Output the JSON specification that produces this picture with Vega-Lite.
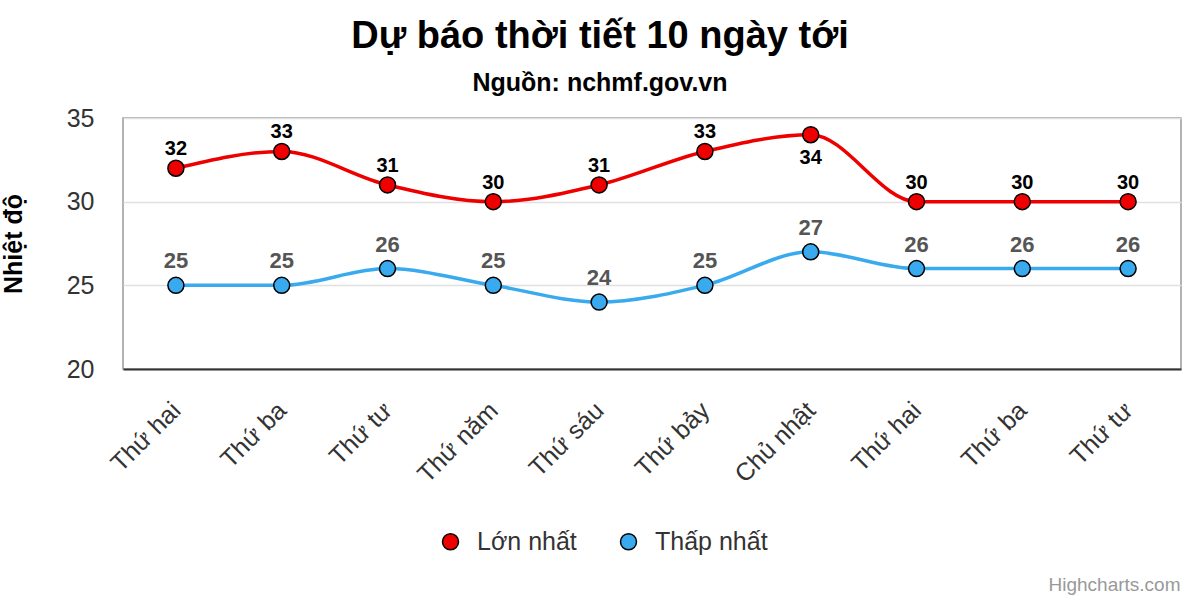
{
  "$schema": "https://vega.github.io/schema/vega-lite/v6.json",
  "width": 1058,
  "height": 251,
  "autosize": {"type": "none"},
  "padding": {"left": 123, "top": 118, "right": 19, "bottom": 231},
  "background": "white",
  "config": {
    "font": "Liberation Sans",
    "view": {"stroke": "#999999", "strokeWidth": 1.5}
  },
  "title": {
    "text": "Dự báo thời tiết 10 ngày tới",
    "subtitle": "Nguồn: nchmf.gov.vn",
    "anchor": "middle",
    "frame": "group",
    "dx": -52,
    "offset": 10,
    "fontSize": 38,
    "fontWeight": "bold",
    "color": "#000000",
    "subtitleFontSize": 25,
    "subtitleFontWeight": "bold",
    "subtitleColor": "#000000",
    "subtitlePadding": 15
  },
  "data": {
    "values": [
      {"d": "01|Thứ hai", "series": "Lớn nhất", "t": 32},
      {"d": "02|Thứ ba", "series": "Lớn nhất", "t": 33},
      {"d": "03|Thứ tư", "series": "Lớn nhất", "t": 31},
      {"d": "04|Thứ năm", "series": "Lớn nhất", "t": 30},
      {"d": "05|Thứ sáu", "series": "Lớn nhất", "t": 31},
      {"d": "06|Thứ bảy", "series": "Lớn nhất", "t": 33},
      {"d": "07|Chủ nhật", "series": "Lớn nhất", "t": 34},
      {"d": "08|Thứ hai", "series": "Lớn nhất", "t": 30},
      {"d": "09|Thứ ba", "series": "Lớn nhất", "t": 30},
      {"d": "10|Thứ tư", "series": "Lớn nhất", "t": 30},
      {"d": "01|Thứ hai", "series": "Thấp nhất", "t": 25},
      {"d": "02|Thứ ba", "series": "Thấp nhất", "t": 25},
      {"d": "03|Thứ tư", "series": "Thấp nhất", "t": 26},
      {"d": "04|Thứ năm", "series": "Thấp nhất", "t": 25},
      {"d": "05|Thứ sáu", "series": "Thấp nhất", "t": 24},
      {"d": "06|Thứ bảy", "series": "Thấp nhất", "t": 25},
      {"d": "07|Chủ nhật", "series": "Thấp nhất", "t": 27},
      {"d": "08|Thứ hai", "series": "Thấp nhất", "t": 26},
      {"d": "09|Thứ ba", "series": "Thấp nhất", "t": 26},
      {"d": "10|Thứ tư", "series": "Thấp nhất", "t": 26}
    ]
  },
  "encoding": {
    "x": {
      "field": "d",
      "type": "ordinal",
      "sort": "ascending",
      "scale": {"type": "point", "padding": 0.5},
      "axis": {
        "title": "Highcharts.com",
        "titleFontSize": 19,
        "titleFontWeight": "normal",
        "titleColor": "#999999",
        "titleAnchor": "end",
        "titleAlign": "right",
        "titleBaseline": "alphabetic",
        "titleX": 1057,
        "titleY": 221,
        "labelExpr": "split(datum.label, '|')[1]",
        "labelAngle": -45,
        "labelAlign": "right",
        "labelBaseline": "middle",
        "labelFontSize": 25,
        "labelColor": "#333333",
        "labelPadding": 37,
        "ticks": false,
        "domainColor": "#333333",
        "domainWidth": 2,
        "grid": false
      }
    },
    "y": {
      "field": "t",
      "type": "quantitative",
      "scale": {"domain": [20, 35], "nice": false, "zero": false},
      "axis": {
        "title": "Nhiệt độ",
        "titleFontSize": 25,
        "titleFontWeight": "bold",
        "titleColor": "#000000",
        "titlePadding": 40,
        "values": [20, 25, 30, 35],
        "labelFontSize": 25,
        "labelColor": "#333333",
        "labelPadding": 29,
        "ticks": false,
        "domain": false,
        "grid": true,
        "gridColor": "#e0e0e0",
        "gridWidth": 1.5
      }
    }
  },
  "layer": [
    {
      "mark": {"type": "line", "interpolate": "monotone", "strokeWidth": 3.5},
      "encoding": {
        "detail": {"field": "series", "type": "nominal"},
        "stroke": {
          "condition": {"test": "datum.series == 'Lớn nhất'", "value": "#ee0000"},
          "value": "#39aaee"
        }
      }
    },
    {
      "mark": {"type": "point", "filled": true, "size": 256, "opacity": 1, "stroke": "#000000", "strokeWidth": 1.5},
      "encoding": {
        "fill": {
          "field": "series",
          "type": "nominal",
          "scale": {"domain": ["Lớn nhất", "Thấp nhất"], "range": ["#ee0000", "#39aaee"]},
          "legend": {
            "title": null,
            "orient": "none",
            "direction": "horizontal",
            "legendX": 315,
            "legendY": 411,
            "labelFontSize": 25,
            "labelColor": "#333333",
            "symbolType": "circle",
            "symbolSize": 256,
            "symbolStrokeColor": "#000000",
            "symbolStrokeWidth": 1.5,
            "columnPadding": 39,
            "labelOffset": 14
          }
        }
      }
    },
    {
      "transform": [{"filter": "datum.series == 'Lớn nhất' && datum.t < 34"}],
      "mark": {"type": "text", "dy": -19, "fontSize": 20, "fontWeight": "bold", "baseline": "middle", "fill": "#000000"},
      "encoding": {"text": {"field": "t"}}
    },
    {
      "transform": [{"filter": "datum.series == 'Lớn nhất' && datum.t >= 34"}],
      "mark": {"type": "text", "dy": 23, "fontSize": 20, "fontWeight": "bold", "baseline": "middle", "fill": "#000000"},
      "encoding": {"text": {"field": "t"}}
    },
    {
      "transform": [{"filter": "datum.series == 'Thấp nhất'"}],
      "mark": {"type": "text", "dy": -24, "fontSize": 22, "fontWeight": "bold", "baseline": "middle", "fill": "#555555"},
      "encoding": {"text": {"field": "t"}}
    }
  ]
}
